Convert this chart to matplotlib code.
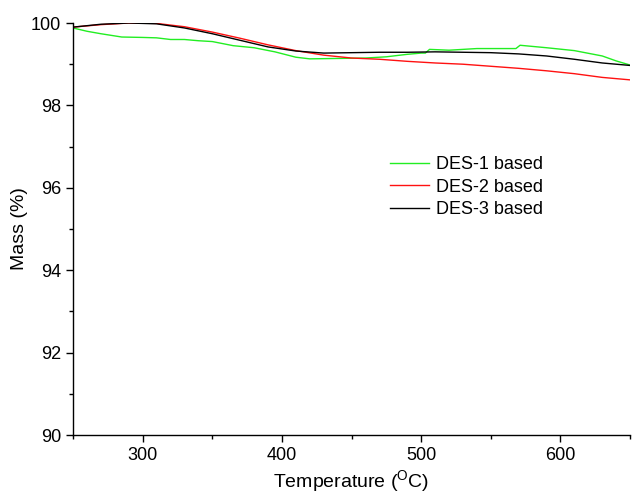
import numpy as np
import matplotlib
matplotlib.use("Agg")
import matplotlib.pyplot as plt
from matplotlib.ticker import MultipleLocator

plt.rcParams['font.family'] = ['Liberation Sans', 'DejaVu Sans']
plt.rcParams['mathtext.fontset'] = 'custom'
plt.rcParams['mathtext.rm'] = 'Liberation Sans'

# DES-1 based (green)
t_des1 = [250, 260, 270, 285, 300, 310, 320, 330, 340, 350, 365, 380, 395, 410,
          420, 440, 460, 475, 490, 500, 503, 506, 520, 540, 560, 568, 571, 590,
          610, 630, 640, 650]
m_des1 = [99.88, 99.80, 99.74, 99.66, 99.65, 99.64, 99.60, 99.60, 99.57, 99.55,
          99.45, 99.40, 99.30, 99.17, 99.13, 99.14, 99.15, 99.18, 99.24, 99.27,
          99.27, 99.36, 99.34, 99.38, 99.38, 99.38, 99.46, 99.40, 99.33, 99.20,
          99.08, 98.98]

# DES-2 based (red)
t_des2 = [250, 270, 290, 310, 330, 350, 370, 390, 410, 430, 450, 470, 490, 510,
          530, 550, 570, 590, 610, 630, 650]
m_des2 = [99.90, 99.96, 100.0, 99.99, 99.91, 99.78, 99.63, 99.47, 99.33, 99.22,
          99.15, 99.12, 99.07, 99.03, 99.00, 98.95, 98.90, 98.84, 98.77, 98.68,
          98.62]

# DES-3 based (black)
t_des3 = [250, 270, 290, 310, 330, 350, 370, 390, 410, 430, 450, 470, 490, 510,
          530, 550, 570, 590, 610, 630, 650]
m_des3 = [99.90, 99.97, 100.0, 99.98, 99.88, 99.74, 99.58, 99.42, 99.32, 99.27,
          99.28, 99.29, 99.29, 99.30, 99.29, 99.28, 99.25, 99.20, 99.12, 99.03,
          98.97]

fig = plt.figure(figsize=(6.32, 4.97), dpi=100)
ax = fig.add_axes([0.1155, 0.1247, 0.8815, 0.829])

ax.plot(t_des1, m_des1, color='#22ee22', lw=1.0, label='DES-1 based')
ax.plot(t_des2, m_des2, color='#ff1111', lw=1.0, label='DES-2 based')
ax.plot(t_des3, m_des3, color='black', lw=1.0, label='DES-3 based')

ax.set_xlim(250, 650)
ax.set_ylim(90, 100)
ax.xaxis.set_major_locator(MultipleLocator(100))
ax.xaxis.set_minor_locator(MultipleLocator(50))
ax.yaxis.set_major_locator(MultipleLocator(2))
ax.yaxis.set_minor_locator(MultipleLocator(1))
ax.spines['top'].set_visible(False)
ax.spines['right'].set_visible(False)
for s in ('left', 'bottom'):
    ax.spines[s].set_linewidth(1.0)
ax.tick_params(which='major', direction='out', length=5, width=1, labelsize=13)
ax.tick_params(which='minor', direction='out', length=3, width=1)

ax.set_xlabel('Temperature ($^\\mathrm{O}$C)', fontsize=14, labelpad=3)
ax.set_ylabel('Mass (%)', fontsize=14, labelpad=2)

ax.legend(loc='upper left', bbox_to_anchor=(0.539, 0.717), frameon=False,
          fontsize=13, handlelength=2.2, handletextpad=0.35, labelspacing=0.32)

fig.savefig('out.png', dpi=100)
